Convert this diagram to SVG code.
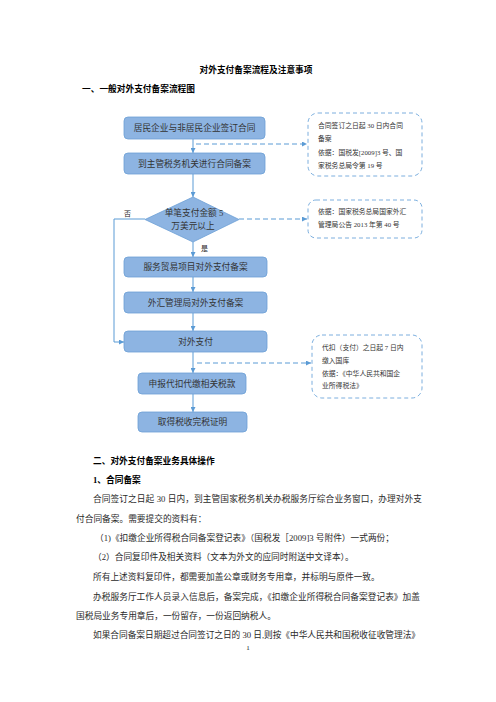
<svg xmlns="http://www.w3.org/2000/svg" width="496" height="702" viewBox="0 0 496 702">
<defs>
<style>
.t{font-family:"Liberation Serif","Noto Sans CJK SC",serif;fill:#1a1a1a}
.b{font-size:8.7px;fill:#2a2a2a}
.h{font-size:8.7px;font-weight:bold;fill:#000}
.bx{fill:#8DB4E2;stroke:#6C9FD6;stroke-width:0.8}
.bt{font-family:"Liberation Serif","Noto Sans CJK SC",serif;font-size:8.7px;fill:#333;text-anchor:middle}
.ct{font-family:"Liberation Serif","Noto Sans CJK SC",serif;font-size:6.8px;fill:#333}
.cl{fill:none;stroke:#5B9BD5;stroke-width:0.8;stroke-dasharray:4 3}
.ln{fill:none;stroke:#5B9BD5;stroke-width:1}
.dl{fill:none;stroke:#5B9BD5;stroke-width:1;stroke-dasharray:5 3}
</style>
<marker id="ar" viewBox="0 0 10 10" refX="10" refY="5" markerWidth="5" markerHeight="5" orient="auto" markerUnits="userSpaceOnUse">
<path d="M0,0 L10,5 L0,10 z" fill="#5B9BD5"/>
</marker>
</defs>
<rect width="496" height="702" fill="#fff"/>

<text class="t h" x="256" y="73" text-anchor="middle">对外支付备案流程及注意事项</text>
<text class="t h" x="82" y="92">一、一般对外支付备案流程图</text>

<g id="connectors">
<line class="ln" x1="193" y1="139" x2="193" y2="153" marker-end="url(#ar)"/>
<line class="ln" x1="193" y1="174" x2="193" y2="197" marker-end="url(#ar)"/>
<line class="ln" x1="193" y1="242" x2="193" y2="257" marker-end="url(#ar)"/>
<line class="ln" x1="193" y1="277" x2="193" y2="292" marker-end="url(#ar)"/>
<line class="ln" x1="193" y1="313" x2="193" y2="331" marker-end="url(#ar)"/>
<line class="ln" x1="193" y1="352" x2="193" y2="373" marker-end="url(#ar)"/>
<line class="ln" x1="193" y1="394" x2="193" y2="412" marker-end="url(#ar)"/>
<polyline class="ln" points="145,219 114,219 114,342 124,342" marker-end="url(#ar)"/>
<line class="dl" x1="196" y1="144" x2="307" y2="144" marker-end="url(#ar)"/>
<line class="dl" x1="239" y1="219" x2="307" y2="219" marker-end="url(#ar)"/>
<line class="dl" x1="197" y1="363" x2="311" y2="363" marker-end="url(#ar)"/>
<text class="t" x="124" y="216" font-size="7">否</text>
<text class="t" x="201" y="251" font-size="7">是</text>
</g>

<g id="n1"><rect class="bx" x="124" y="117" width="141" height="22" rx="4"/><text class="bt" x="194.5" y="131">居民企业与非居民企业签订合同</text></g>
<g id="n2"><rect class="bx" x="124" y="153" width="141" height="21" rx="4"/><text class="bt" x="194.5" y="166.5">到主管税务机关进行合同备案</text></g>
<g id="n3"><polygon points="193,197 239,219.5 193,242 145,219.5" fill="#8DB4E2" stroke="#6C9FD6" stroke-width="0.8"/>
<text class="bt" x="194" y="216" font-size="7">单笔支付金额 5</text><text class="bt" x="193" y="229" font-size="7">万美元以上</text></g>
<g id="n4"><rect class="bx" x="124" y="257" width="143" height="20" rx="4"/><text class="bt" x="195.5" y="270">服务贸易项目对外支付备案</text></g>
<g id="n5"><rect class="bx" x="124" y="292" width="143" height="21" rx="4"/><text class="bt" x="195.5" y="305.5">外汇管理局对外支付备案</text></g>
<g id="n6"><rect class="bx" x="124" y="331" width="143" height="21" rx="4"/><text class="bt" x="195.5" y="344.5">对外支付</text></g>
<g id="n7"><rect class="bx" x="138" y="373" width="108" height="21" rx="4"/><text class="bt" x="192" y="386.5">申报代扣代缴相关税款</text></g>
<g id="n8"><rect class="bx" x="138" y="412" width="109" height="20" rx="4"/><text class="bt" x="192.5" y="425">取得税收完税证明</text></g>

<g id="c1"><rect class="cl" x="308" y="113" width="114" height="63" rx="10"/>
<text class="ct" x="318" y="128">合同签订之日起 30 日内合同</text>
<text class="ct" x="318" y="141">备案</text>
<text class="ct" x="318" y="155">依据：国税发[2009]3 号、国</text>
<text class="ct" x="318" y="168">家税务总局令第 19 号</text></g>
<g id="c2"><rect class="cl" x="308" y="200" width="114" height="38" rx="8"/>
<text class="ct" x="318" y="214">依据：国家税务总局国家外汇</text>
<text class="ct" x="318" y="227">管理局公告 2013 年第 40 号</text></g>
<g id="c3"><rect class="cl" x="312" y="335" width="110" height="63" rx="10"/>
<text class="ct" x="322" y="350">代扣（支付）之日起 7 日内</text>
<text class="ct" x="322" y="363">缴入国库</text>
<text class="ct" x="322" y="376">依据：《中华人民共和国企</text>
<text class="ct" x="322" y="388">业所得税法》</text></g>

<text class="t h" x="93" y="464">二、对外支付备案业务具体操作</text>
<text class="t h" x="93" y="483">1、合同备案</text>
<text class="t b" x="93" y="502" textLength="329" lengthAdjust="spacing">合同签订之日起 30 日内，到主管国家税务机关办税服务厅综合业务窗口，办理对外支</text>
<text class="t b" x="76" y="522">付合同备案。需要提交的资料有：</text>
<text class="t b" x="95" y="541">（1)《扣缴企业所得税合同备案登记表》（国税发［2009]3 号附件）一式两份；</text>
<text class="t b" x="93" y="560">（2）合同复印件及相关资料（文本为外文的应同时附送中文译本）。</text>
<text class="t b" x="93" y="580">所有上述资料复印件，都需要加盖公章或财务专用章，并标明与原件一致。</text>
<text class="t b" x="93" y="600" textLength="327" lengthAdjust="spacing">办税服务厅工作人员录入信息后，备案完成，《扣缴企业所得税合同备案登记表》加盖</text>
<text class="t b" x="76" y="619">国税局业务专用章后，一份留存，一份返回纳税人。</text>
<text class="t b" x="93" y="638" textLength="327" lengthAdjust="spacing">如果合同备案日期超过合同签订之日的 30 日,则按《中华人民共和国税收征收管理法》</text>
<text class="t" x="248" y="650" font-size="7" text-anchor="middle">1</text>
</svg>
